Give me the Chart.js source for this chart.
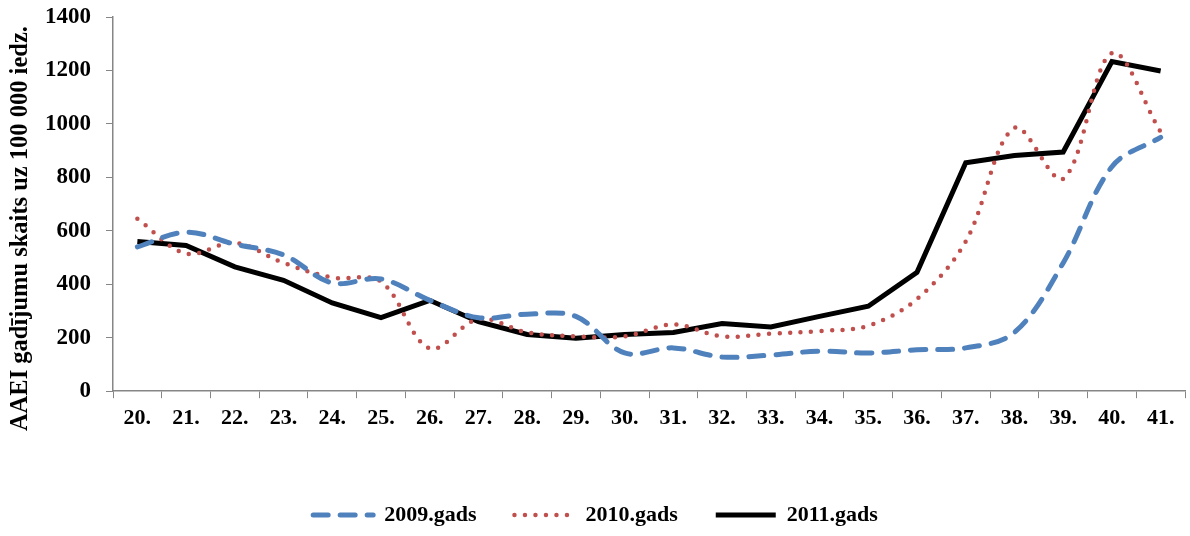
<!DOCTYPE html>
<html>
<head>
<meta charset="utf-8">
<script src="https://cdn.jsdelivr.net/npm/chart.js@4.4.0/dist/chart.umd.min.js"></script>
<style>
  body { margin: 0; background: #fff; }
</style>
</head>
<body>
<canvas id="aaeiChart" width="1190" height="536"></canvas>
<script>
// vecuma grupas (x ass)
const ages = ["20.", "21.", "22.", "23.", "24.", "25.", "26.", "27.", "28.", "29.", "30.",
  "31.", "32.", "33.", "34.", "35.", "36.", "37.", "38.", "39.", "40.", "41."];

// AAEI gadījumi uz 100 000 iedz.
const cases2009 = [540, 595, 550, 510, 405, 420, 340, 275, 288, 280, 143,
  162, 128, 135, 150, 143, 155, 162, 220, 480, 840, 950];
const cases2010 = [645, 515, 555, 480, 425, 410, 160, 270, 220, 205, 205,
  250, 205, 215, 225, 245, 345, 560, 985, 795, 1265, 970];
const cases2011 = [560, 545, 465, 415, 330, 275, 340, 260, 212, 198, 212,
  220, 253, 240, 280, 318, 445, 855, 882, 895, 1233, 1198];

const yTicks = [0, 200, 400, 600, 800, 1000, 1200, 1400];

const serif = "'Liberation Serif', 'Times New Roman', serif";
const axisGray = "#868686";

new Chart(document.getElementById("aaeiChart"), {
  type: "line",
  data: {
    labels: ages,
    datasets: [
      {
        label: "2009.gads",
        data: cases2009,
        borderColor: "#4F81BD",
        backgroundColor: "#4F81BD",
        borderWidth: 5,
        borderDash: [15, 12],
        borderCapStyle: "round",
        tension: 0.35,
        pointRadius: 0
      },
      {
        label: "2010.gads",
        data: cases2010,
        borderColor: "#C0504D",
        backgroundColor: "#C0504D",
        borderWidth: 4.5,
        borderDash: [0, 10.5],
        borderCapStyle: "round",
        tension: 0.35,
        pointRadius: 0
      },
      {
        label: "2011.gads",
        data: cases2011,
        borderColor: "#000000",
        backgroundColor: "#000000",
        borderWidth: 5,
        tension: 0,
        pointRadius: 0
      }
    ]
  },
  options: {
    responsive: false,
    animation: false,
    layout: { padding: { top: 0, right: 5, left: 6, bottom: 0 } },
    scales: {
      x: {
        offset: true,
        grid: {
          offset: true,
          drawOnChartArea: false,
          tickLength: 7,
          color: axisGray
        },
        border: { color: axisGray, width: 1.5 },
        ticks: {
          color: "#000",
          padding: 7,
          autoSkip: false,
          maxRotation: 0,
          font: { family: serif, size: 22, weight: "bold" }
        }
      },
      y: {
        min: 0,
        max: 1400,
        afterBuildTicks: axis => { axis.ticks = yTicks.map(v => ({ value: v })); },
        // ass pie x=113, augša pie y=17
        afterFit: axis => {
          axis.width = 107;
          axis.paddingTop = 17;
        },
        grid: {
          drawOnChartArea: false,
          tickLength: 7,
          color: axisGray
        },
        border: { color: axisGray, width: 1.5 },
        ticks: {
          color: "#000",
          padding: 15,
          callback: v => String(v),
          font: { family: serif, size: 23, weight: "bold" }
        },
        title: {
          display: true,
          // atstarpes beigās nobīda virsrakstu nedaudz uz leju, kā oriģinālā
          text: "AAEI gadījumu skaits uz 100 000 iedz.        ",
          color: "#000",
          padding: { top: 0, bottom: 6 },
          font: { family: serif, size: 24.5, weight: "bold" }
        }
      }
    },
    plugins: {
      legend: {
        position: "bottom",
        title: { display: true, text: "", padding: { top: 0, bottom: 46 } },
        labels: {
          usePointStyle: true,
          pointStyle: "line",
          pointStyleWidth: 60,
          boxHeight: 5,
          padding: 5,
          color: "#000",
          font: { family: serif, size: 22, weight: "bold" },
          generateLabels: chart => {
            const items = Chart.defaults.plugins.legend.labels.generateLabels(chart);
            items.forEach((it, i) => {
              const ds = chart.data.datasets[it.datasetIndex];
              it.lineDash = ds.borderDash || [];
              it.lineCap = ds.borderCapStyle || "butt";
              it.lineWidth = ds.borderWidth;
              it.strokeStyle = ds.borderColor;
              if (i < items.length - 1) it.text += "      ";
            });
            return items;
          }
        }
      },
      tooltip: { enabled: false }
    }
  }
});
</script>
</body>
</html>
